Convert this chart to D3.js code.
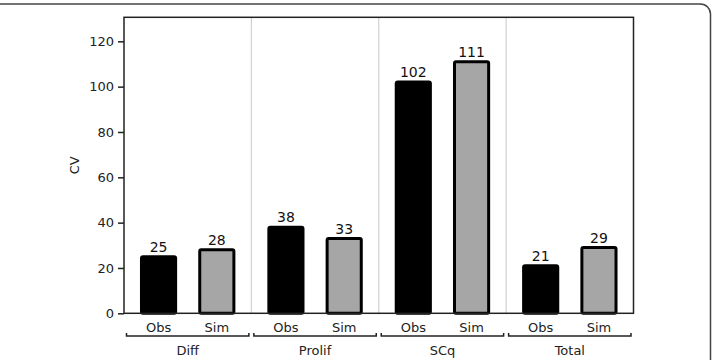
<!DOCTYPE html>
<html>
<head>
<meta charset="utf-8">
<script src="https://cdn.jsdelivr.net/npm/d3@7"></script>
<style>
  html, body { margin: 0; padding: 0; background: #fff; }
  svg { display: block; font-family: "DejaVu Sans", sans-serif; }
</style>
</head>
<body>
<svg id="chart" width="715" height="360"></svg>
<script>
// ---- data ----
const groups = ["Diff", "Prolif", "SCq", "Total"];
const kinds = ["Obs", "Sim"];
const obsValues = [25, 38, 102, 21];
const simValues = [28, 33, 111, 29];
const yTicks = [0, 20, 40, 60, 80, 100, 120];
const yLabel = "CV";

const W = 715, H = 360;
const margin = { left: 124, top: 17.3, right: 715 - 633.5, bottom: 360 - 313.3 };
const svg = d3.select("#chart");

// outer rounded frame
svg.append("rect")
  .attr("x", -20).attr("y", 4)
  .attr("width", 710.5 + 20).attr("height", 400)
  .attr("rx", 10).attr("ry", 10)
  .attr("fill", "none").attr("stroke", "#444").attr("stroke-width", 1.5);

const x0 = d3.scaleBand().domain(groups)
  .range([margin.left, W - margin.right]).padding(0);
const x1 = d3.scaleBand().domain(kinds)
  .range([0, x0.bandwidth()]).paddingInner(0.414).paddingOuter(0.3);
const y = d3.scaleLinear().domain([0, 130.6])
  .range([H - margin.bottom, margin.top]);

const data = [];
groups.forEach((g, i) => {
  data.push({ group: g, kind: "Obs", value: obsValues[i] });
  data.push({ group: g, kind: "Sim", value: simValues[i] });
});

const plot = svg.append("g");

// group separators
plot.selectAll("line.sep").data(groups.slice(1)).join("line")
  .attr("class", "sep")
  .attr("x1", d => x0(d)).attr("x2", d => x0(d))
  .attr("y1", margin.top).attr("y2", H - margin.bottom)
  .attr("stroke", "#d2d2d2").attr("stroke-width", 1.2);

// bars
plot.selectAll("rect.bar").data(data).join("rect")
  .attr("class", "bar")
  .attr("x", d => x0(d.group) + x1(d.kind))
  .attr("width", x1.bandwidth())
  .attr("y", d => y(d.value))
  .attr("height", d => y(0) - y(d.value))
  .attr("rx", 1.5)
  .attr("fill", d => d.kind === "Obs" ? "#000" : "#a6a6a6")
  .attr("stroke", "#000").attr("stroke-width", 3);

// value labels
plot.selectAll("text.val").data(data).join("text")
  .attr("class", "val")
  .attr("x", d => x0(d.group) + x1(d.kind) + x1.bandwidth() / 2)
  .attr("y", d => y(d.value) - 5)
  .attr("text-anchor", "middle")
  .attr("font-size", 14).attr("fill", "#111")
  .text(d => d.value);

// plot frame
svg.append("rect")
  .attr("x", margin.left).attr("y", margin.top)
  .attr("width", W - margin.right - margin.left)
  .attr("height", H - margin.bottom - margin.top)
  .attr("fill", "none").attr("stroke", "#222").attr("stroke-width", 1.5);

// y axis
const yAxis = d3.axisLeft(y).tickValues(yTicks).tickSize(6).tickPadding(4);
const ya = svg.append("g").attr("transform", `translate(${margin.left},0)`).call(yAxis);
ya.select(".domain").remove();
ya.selectAll(".tick line").attr("stroke", "#222").attr("stroke-width", 1.5);
ya.selectAll(".tick text").attr("font-size", 13).attr("fill", "#222")
  .attr("font-family", "DejaVu Sans, sans-serif");

// y label
svg.append("text")
  .attr("transform", `translate(78.5, ${(margin.top + H - margin.bottom) / 2}) rotate(-90)`)
  .attr("text-anchor", "middle")
  .attr("font-size", 13).attr("fill", "#222")
  .text(yLabel);

// x sub labels
svg.selectAll("text.kind").data(data).join("text")
  .attr("class", "kind")
  .attr("x", d => x0(d.group) + x1(d.kind) + x1.bandwidth() / 2)
  .attr("y", 331.5)
  .attr("text-anchor", "middle")
  .attr("font-size", 13).attr("fill", "#222")
  .text(d => d.kind);

// group brackets
const br = svg.selectAll("path.br").data(groups).join("path")
  .attr("class", "br")
  .attr("d", d => {
    const a = x0(d) + 2.5, b = x0(d) + x0.bandwidth() - 2.5, yy = 336;
    return `M${a},${yy - 3}L${a},${yy}L${b},${yy}L${b},${yy - 3}`;
  })
  .attr("fill", "none").attr("stroke", "#222").attr("stroke-width", 1.5);

svg.selectAll("text.grp").data(groups).join("text")
  .attr("class", "grp")
  .attr("x", d => x0(d) + x0.bandwidth() / 2)
  .attr("y", 355)
  .attr("text-anchor", "middle")
  .attr("font-size", 13).attr("fill", "#222")
  .text(d => d);
</script>
</body>
</html>
